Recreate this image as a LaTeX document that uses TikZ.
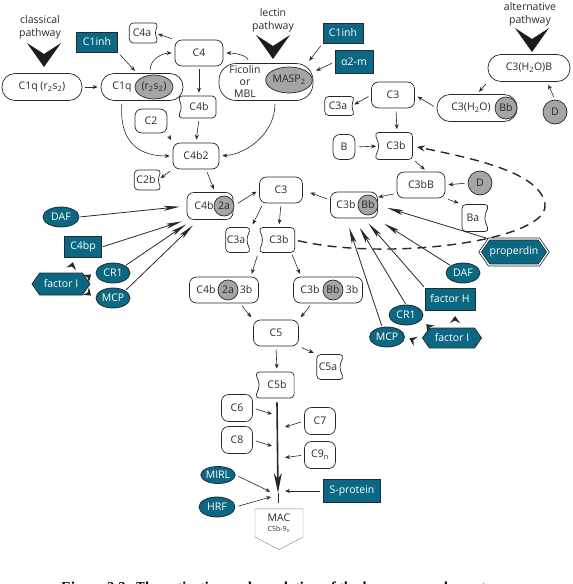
\documentclass[tikz,border=0pt]{standalone}
\usepackage{fontspec}
\setmainfont{Open Sans}
\newfontfamily\capfont{Liberation Serif}
\usetikzlibrary{positioning,arrows.meta,shapes.geometric,shapes.symbols,calc}

\definecolor{regblue}{RGB}{12,104,130}
\definecolor{regedge}{RGB}{30,45,52}
\definecolor{bitgray}{RGB}{165,165,165}
\definecolor{ink}{RGB}{40,40,40}

\tikzset{
  box/.style={draw=ink, rounded corners=7pt, inner sep=0pt, text=ink, line width=0.7pt},
  cutr/.style={draw=ink, shape=signal, signal to=nowhere, signal from=east, signal pointer angle=140, rounded corners=4pt, inner sep=0pt, text=ink, line width=0.7pt},
  cutl/.style={draw=ink, shape=signal, signal to=nowhere, signal from=west, signal pointer angle=140, rounded corners=4pt, inner sep=0pt, text=ink, line width=0.7pt},
  bit/.style={draw=ink, fill=bitgray, ellipse, inner sep=0pt, text=ink, line width=0.7pt},
  reg/.style={draw=regedge, fill=regblue, text=white, ellipse, inner sep=0pt, line width=0.8pt},
  regbox/.style={draw=regedge, fill=regblue, text=white, inner sep=0pt, line width=0.8pt},
  reghex/.style={draw=regedge, fill=regblue, text=white, shape=signal, signal to=east and west, signal pointer angle=110, inner sep=0pt, line width=0.8pt},
  arr/.style={-{Stealth[length=5pt,width=4pt]}, line width=0.6pt, draw=ink, shorten >=3pt, shorten <=3pt},
  regarr/.style={-{Stealth[length=16pt,width=5pt,inset=4pt]}, line width=0.8pt, draw=ink, shorten <=1pt},
  lbl/.style={align=center, text=ink, font=\fontsize{10.5}{13}\selectfont},
  pathway/.pic={\fill[ink!70!black] (-17,-11) -- (0,0) -- (17,-11) -- (0,13) -- cycle;},
  inhib/.pic={\fill[ink] (-5,3) -- (0,-4) -- (5,3) -- (0,0.5) -- cycle;},
}

\begin{document}
\begin{tikzpicture}[x=1pt,y=-1pt,font=\fontsize{10.5}{12}\selectfont]
\useasboundingbox (0,0) rectangle (573,584);

% classical pathway
\node[lbl] (lblcl) at (40,27) {classical\\pathway};
\pic at (44,54) {pathway};
\node[regbox, minimum width=41pt, minimum height=20pt] (c1inhA) at (97,42) {C1inh};
\node[box, rounded corners=13pt, minimum width=80pt, minimum height=27pt] (c1q) at (42,87) {C1q (r\textsubscript{2}s\textsubscript{2})};
\node[box, rounded corners=13pt, minimum width=82pt, minimum height=27pt] (c1qa) at (142,87) {};
\node[text=ink] (c1qtxt) at (122,87) {C1q};
\node[bit, minimum width=38pt, minimum height=24pt] (r2s2) at (154,87) {(r\textsubscript{2}s\textsubscript{2})};
\node[cutr, minimum width=29pt, minimum height=20pt] (c4a) at (142,33) {C4a};
\node[box, minimum width=48pt, minimum height=26pt] (c4) at (199,53) {C4};
\node[cutl, minimum width=38pt, minimum height=22pt] (c4b) at (199,107) {C4b};
\node[box, minimum width=32pt, minimum height=24pt] (c2) at (151,121) {C2};
\node[box, minimum width=46pt, minimum height=26pt] (c4b2) at (196,156) {C4b2};
\node[cutr, minimum width=27pt, minimum height=20pt] (c2b) at (146,180) {C2b};
\node[box, minimum width=46pt, minimum height=27pt] (c4b2a) at (210,206) {};
\node[text=ink] (c4b2atxt) at (204,206) {C4b};
\node[bit, circle, minimum size=20pt] (bit2a) at (224,206) {2a};
\node[box, minimum width=43pt, minimum height=26pt] (c3) at (281,190) {C3};
\node[cutr, minimum width=25pt, minimum height=25pt] (c3a) at (236,240) {C3a};
\node[cutl, minimum width=36pt, minimum height=25pt] (c3b) at (279,240) {C3b};

% lectin pathway
\node[lbl] (lbllec) at (273,20) {lectin\\pathway};
\pic at (273,46) {pathway};
\node[box, rounded corners=17pt, minimum width=94pt, minimum height=37pt] (ficolin) at (266,82) {};
\node[lbl, font=\fontsize{10.5}{12}\selectfont] (ficotxt) at (245,82) {Ficolin\\or\\MBL};
\node[bit, minimum width=44pt, minimum height=26pt] (masp) at (289,80) {MASP\textsubscript{2}};
\node[regbox, minimum width=40pt, minimum height=20pt] (c1inhB) at (343,33) {C1inh};
\node[regbox, minimum width=38pt, minimum height=23pt] (a2m) at (354,62) {α2-m};

% alternative pathway
\node[lbl] (lblalt) at (530,14) {alternative\\pathway};
\pic at (532,39) {pathway};
\node[box, rounded corners=13pt, minimum width=82pt, minimum height=27pt] (c3h2ob) at (529,68) {C3(H\textsubscript{2}O)B};
\node[bit, circle, minimum size=24pt] (dA) at (555,112) {D};
\node[box, rounded corners=13pt, minimum width=80pt, minimum height=27pt] (c3h2obb) at (477,108) {};
\node[text=ink] (c3h2otxt) at (471,108) {C3(H\textsubscript{2}O)};
\node[bit, circle, minimum size=22pt] (bbA) at (506,108) {Bb};
\node[box, minimum width=43pt, minimum height=26pt] (c3r) at (393,95) {C3};
\node[cutr, minimum width=30pt, minimum height=19pt] (c3ar) at (338,106) {C3a};
\node[box, minimum width=22pt, minimum height=25pt] (b) at (344,147) {B};
\node[cutl, minimum width=38pt, minimum height=27pt] (c3br) at (396,146) {C3b};
\node[box, minimum width=48pt, minimum height=26pt] (c3bB) at (421,185) {C3bB};
\node[bit, circle, minimum size=24pt] (dB) at (480,183) {D};
\node[cutr, minimum width=27pt, minimum height=27pt] (ba) at (473,218) {Ba};
\node[box, minimum width=47pt, minimum height=26pt] (c3bBb) at (354,205) {};
\node[text=ink] (c3bBbtxt) at (346,205) {C3b};
\node[bit, circle, minimum size=20pt] (bbB) at (368,205) {Bb};
\node[reghex, double=white, double distance=1.2pt, minimum width=68pt, minimum height=26pt] (properdin) at (514,252) {properdin};

% regulators, left
\node[reg, minimum width=36pt, minimum height=20pt] (dafL) at (61,217) {DAF};
\node[regbox, minimum width=37pt, minimum height=21pt] (c4bp) at (83,247) {C4bp};
\node[reg, minimum width=34pt, minimum height=20pt] (cr1L) at (113,273) {CR1};
\node[reg, minimum width=34pt, minimum height=20pt] (mcpL) at (113,298) {MCP};
\node[reghex, minimum width=58pt, minimum height=22pt] (fiL) at (61,284) {factor I};

% regulators, right
\node[reg, minimum width=34pt, minimum height=20pt] (dafR) at (463,273) {DAF};
\node[regbox, minimum width=50pt, minimum height=22pt] (fh) at (450,299) {factor H};
\node[reg, minimum width=34pt, minimum height=20pt] (cr1R) at (406,315) {CR1};
\node[reg, minimum width=35pt, minimum height=20pt] (mcpR) at (387,337) {MCP};
\node[reghex, minimum width=59pt, minimum height=20pt] (fiR) at (452,338) {factor I};

% C5 convertases and MAC
\node[box, minimum width=69pt, minimum height=26pt] (c4b2a3b) at (224,290) {};
\node[text=ink] (c4b2a3bl) at (206,290) {C4b};
\node[bit, circle, minimum size=20pt] (bit2b) at (228,290) {2a};
\node[text=ink] (c4b2a3br) at (246,290) {3b};
\node[box, minimum width=69pt, minimum height=26pt] (c3bBb3b) at (328,290) {};
\node[text=ink] (c3bBb3bl) at (310,290) {C3b};
\node[bit, circle, minimum size=20pt] (bbC) at (333,290) {Bb};
\node[text=ink] (c3bBb3br) at (352,290) {3b};
\node[box, minimum width=45pt, minimum height=26pt] (c5) at (276,333) {C5};
\node[cutr, minimum width=27pt, minimum height=25pt] (c5a) at (328,367) {C5a};
\node[cutl, minimum width=39pt, minimum height=26pt] (c5b) at (277,385) {C5b};
\node[box, minimum width=31pt, minimum height=27pt] (c6) at (237,408) {C6};
\node[box, minimum width=31pt, minimum height=27pt] (c8) at (237,440) {C8};
\node[box, minimum width=31pt, minimum height=27pt] (c7) at (320,421) {C7};
\node[box, minimum width=31pt, minimum height=27pt] (c9) at (320,455) {C9\textsubscript{n}};
\node[reg, minimum width=34pt, minimum height=17pt] (mirl) at (218,475) {MIRL};
\node[reg, minimum width=36pt, minimum height=20pt] (hrf) at (217,507) {HRF};
\node[regbox, minimum width=57pt, minimum height=23pt] (sprot) at (352,491) {S-protein};
\node[draw=gray, shape=signal, signal to=south, signal pointer angle=125, minimum width=48pt, minimum height=34pt, inner sep=0pt, align=center, text=ink] (mac) at (279,523) {MAC\\[-2pt]{\fontsize{7}{8}\selectfont C5b-9\textsubscript{n}}};

\coordinate (lineend) at (278,493);
\coordinate (m6) at (275,415);
\coordinate (m8) at (275,447);
\coordinate (m7) at (282,428);
\coordinate (m9) at (282,458);
\coordinate (mm) at (273,493);
\coordinate (mh) at (274,496);
\coordinate (ms) at (282,491);

% activation steps
\draw[arr] (c1inhA.south east) -- ([xshift=-5pt]c1qa.north);
\draw[arr] (c1q.east) -- (c1qa.west);
\draw[arr] (c4.north west) -- (c4a.east);
\draw[arr] ([xshift=8pt]c1qa.north) .. controls +(0,-14) and +(-12,0) .. (c4.west);
\draw[arr] ([xshift=-18pt]ficolin.north) .. controls +(0,-8) and +(10,0) .. (c4.east);
\draw[arr] (c4.south) -- (c4b.north);
\draw[arr] (c2.south east) -- (c4b2.north west);
\draw[arr] (c4b.south) -- (c4b2.north);
\draw[arr] ([xshift=-20pt]c1qa.south) .. controls +(-3,45) and +(-30,0) .. (c4b2.west);
\draw[arr] ([xshift=9pt]ficolin.south) .. controls +(0,32) and +(28,-2) .. (c4b2.east);
\draw[arr] (c4b2.south west) -- (c2b.east);
\draw[arr] ([xshift=10pt]c4b2.south) -- ([xshift=5pt]c4b2a.north);
\draw[arr, shorten <=5pt] (c4b2a.east) -- (c3.west);
\draw[arr] ([xshift=4pt]c3.south west) -- (c3a.north east);
\draw[arr] (c3.south) -- (c3b.north);
\draw[arr] (c1inhB.south west) -- ([xshift=-6pt]ficolin.north east);
\draw[arr] (a2m.west) -- ([yshift=10pt]ficolin.east);

\draw[arr] (dA.north) -- ([xshift=18pt]c3h2ob.south);
\draw[arr] (c3h2ob.south west) -- (c3h2obb.north);
\draw[arr] (c3h2obb.west) -- (c3r.east);
\draw[arr] (c3r.west) -- (c3ar.east);
\draw[arr] ([xshift=3pt]c3r.south) -- ([xshift=1pt]c3br.north);
\draw[arr] (b.east) -- (c3br.west);
\draw[arr] (c3br.south east) -- ([xshift=6pt]c3bB.north);
\draw[arr] (dB.west) -- (c3bB.east);
\draw[arr] ([yshift=5pt]c3bB.south west) -- (bbB.north east);
\draw[arr] (c3bB.south east) -- (ba.north west);
\draw[arr, shorten >=8pt] ([yshift=5pt]c3bBb.west) -- (c3.east);
\draw[ink, line width=1.4pt, dash pattern=on 9pt off 6pt, shorten <=3pt, shorten >=4pt, -{Stealth[length=8pt,width=6pt]}] (c3b.east) .. controls (390,262) and (548,240) .. (545,205) .. controls (542,172) and (470,158) .. (c3br.east);

% regulation
\draw[regarr, shorten >=7pt] (dafL.east) -- (c4b2a.west);
\draw[regarr, shorten >=5pt] (c4bp.east) -- (c4b2a.south west);
\draw[regarr, shorten >=8pt] (cr1L.north east) -- ([xshift=6pt]c4b2a.south west);
\draw[regarr, shorten >=8pt] (mcpL.north east) -- ([xshift=12pt]c4b2a.south west);
\draw[regarr, shorten >=10pt] (properdin.north west) -- (c3bBb.east);
\draw[regarr, shorten >=10pt] (dafR.north west) -- ([xshift=-2pt]c3bBb.south east);
\draw[regarr, shorten >=7pt] (fh.north west) -- ([xshift=10pt]c3bBb.south);
\draw[regarr, shorten >=11pt] (cr1R.north) -- (c3bBb.south);
\draw[regarr, shorten >=10pt] ([xshift=-5pt]mcpR.north) -- ([xshift=-8pt]c3bBb.south);
\pic[rotate=-15] at (72,266) {inhib};
\pic[rotate=-50] at (88,277) {inhib};
\pic[rotate=-130] at (88,293) {inhib};
\pic at (455,320) {inhib};
\pic[rotate=45] at (429,327) {inhib};
\pic[rotate=65] at (413,340) {inhib};

% terminal pathway
\draw[arr] (c3b.south west) -- ([xshift=-8pt]c4b2a3b.north east);
\draw[arr] ([xshift=-4pt]c3b.south east) -- ([xshift=8pt]c3bBb3b.north west);
\draw[arr] ([xshift=16pt]c4b2a3b.south) -- (c5.north west);
\draw[arr] ([xshift=-16pt]c3bBb3b.south) -- (c5.north east);
\draw[arr] (c5.south) -- (c5b.north);
\draw[arr] (c5.south east) -- (c5a.north west);
\draw[line width=1.6pt, draw=ink, -{Stealth[length=20pt,width=8pt,inset=6pt]}] ([yshift=-4pt]c5b.south) -- (lineend);
\draw[line width=1pt, draw=ink] (lineend) -- ++(0,10);
\draw[arr] (c6.east) -- (m6);
\draw[arr] (c8.east) -- (m8);
\draw[arr] (c7.west) -- (m7);
\draw[arr] (c9.west) -- (m9);
\draw[arr] (mirl.east) -- (mm);
\draw[arr] (hrf.east) -- (mh);
\draw[arr] (sprot.west) -- (ms);

\node[anchor=base west, inner sep=0pt, font=\capfont\bfseries\itshape\fontsize{15}{18}\selectfont] (caption) at (60,592) {Figure 2.3: The activation and regulation of the human complement};
\end{tikzpicture}
\end{document}
